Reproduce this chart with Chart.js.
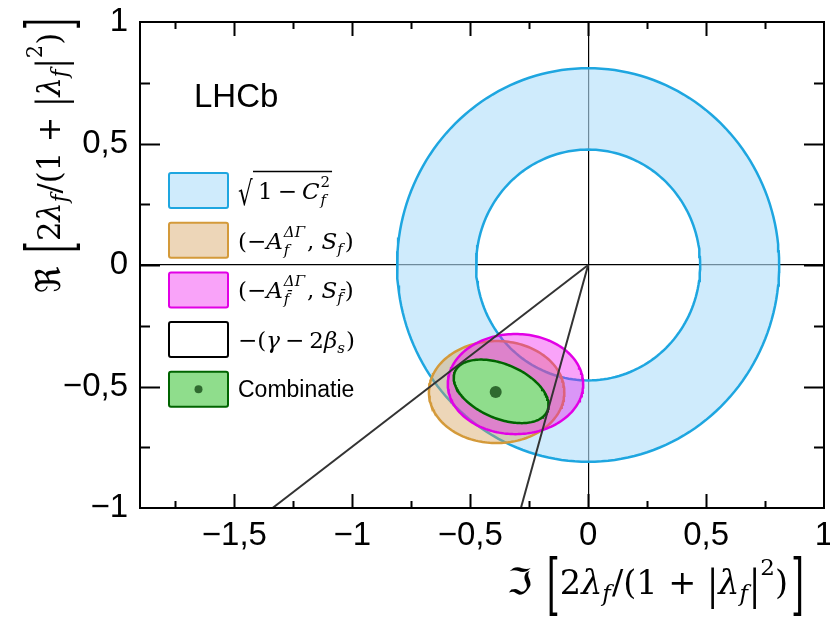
<!DOCTYPE html>
<html>
<head>
<meta charset="utf-8">
<script src="https://cdn.jsdelivr.net/npm/chart.js@4"></script>
<style>
  body { margin:0; background:#fff; }
  #c { display:block; }
</style>
</head>
<body>
<canvas id="c" width="830" height="619"></canvas>
<script>
/* ---- data ---- */
const xRange = [-1.9, 1];
const yRange = [-1, 1];
const xTickValues = [-1.5, -1, -0.5, 0, 0.5, 1];
const yTickValues = [-1, -0.5, 0, 0.5, 1];
const ringRadii = [0.475, 0.81];              // sqrt(1 - C_f^2) band
const ellipseNames = ['Af', 'Afbar', 'Combinatie'];
const ellipseCx  = [-0.388, -0.308, -0.369];
const ellipseCy  = [-0.523, -0.490, -0.520];
const ellipseA   = [0.287, 0.287, 0.212];
const ellipseB   = [0.210, 0.206, 0.112];
const ellipseRot = [0, 0, -22];                // degrees
const bestFit = [-0.392, -0.523];
const gammaLineX = [-1.338, -0.285];           // where the two -(gamma-2beta_s) lines hit y = -1
const legendLabels = ['sqrt', 'Af', 'Afbar', 'gamma', 'Combinatie'];

/* ---- styles ---- */
const ringFill = 'rgba(178,223,250,0.62)', ringLine = '#1ea6e0';
const tanFill = 'rgba(212,158,85,0.42)', tanLine = '#d49a3a';
const magFill = 'rgba(238,0,238,0.36)', magLine = '#e200e6';
const grnFill = '#8fdd8c', grnLine = '#006400', dotCol = '#2f6a2f';
const lineCol = '#333333';

function ellipsePts(cx, cy, a, b, rotDeg, reverse) {
  const r = rotDeg * Math.PI / 180, pts = [];
  for (let i = 0; i <= 180; i++) {
    const t = (reverse ? 180 - i : i) * 2 * Math.PI / 180;
    const ex = a * Math.cos(t), ey = b * Math.sin(t);
    pts.push({ x: cx + ex * Math.cos(r) - ey * Math.sin(r), y: cy + ex * Math.sin(r) + ey * Math.cos(r) });
  }
  return pts;
}

const ringShape = ellipsePts(0, 0, ringRadii[1], ringRadii[1], 0, false)
  .concat(ellipsePts(0, 0, ringRadii[0], ringRadii[0], 0, true));

const fills = [tanFill, magFill, grnFill];
const edges = [tanLine, magLine, grnLine];
const base = { showLine: true, pointRadius: 0, tension: 0, borderWidth: 2.5 };

const datasets = [
  { ...base, label: 'ring', data: ringShape, borderWidth: 0, backgroundColor: ringFill, fill: 'shape', order: 10 },
  { ...base, label: 'outer', data: ellipsePts(0, 0, ringRadii[1], ringRadii[1], 0), borderColor: ringLine, fill: false, order: 9 },
  { ...base, label: 'inner', data: ellipsePts(0, 0, ringRadii[0], ringRadii[0], 0), borderColor: ringLine, fill: false, order: 9 },
];
ellipseNames.forEach((n, i) => {
  datasets.push({ ...base, label: n, data: ellipsePts(ellipseCx[i], ellipseCy[i], ellipseA[i], ellipseB[i], ellipseRot[i]),
    borderColor: edges[i], backgroundColor: fills[i], fill: 'shape', order: 8 - i });
});
datasets.push({ label: 'best', data: [{ x: bestFit[0], y: bestFit[1] }], showLine: false, pointRadius: 6,
  pointBackgroundColor: dotCol, pointBorderWidth: 0, order: 4 });
gammaLineX.forEach((gx, i) => {
  datasets.push({ ...base, label: 'gamma' + i, data: [{ x: 0, y: 0 }, { x: gx, y: yRange[0] }],
    borderColor: lineCol, borderWidth: 2, fill: false, order: 1 });
});

/* ---- text helpers ---- */
const MF = '"DejaVu Serif", "Liberation Serif", serif';
const R = s => s + 'px ' + MF;
const It = s => 'italic ' + s + 'px ' + MF;
const SANS = '"Liberation Sans", Arial, sans-serif';
const fmt = v => (v < 0 ? '\u2212' : '') + String(Math.abs(v)).replace('.', ',');

function rich(ctx, segs, x, y) {
  let cx = x, hold = 0;
  for (const s of segs) {
    ctx.font = s.f;
    const w = ctx.measureText(s.t).width;
    ctx.save();
    ctx.translate(cx, y + (s.dy || 0));
    if (s.sy) ctx.scale(1, s.sy);
    ctx.fillText(s.t, 0, 0);
    ctx.restore();
    if (s.stack) hold = Math.max(hold, w);
    else { cx += Math.max(w, hold) + (s.kern || 0); hold = 0; }
  }
  return cx - x;
}

function titleSegs(sym, n) {
  const k = n / 32;
  return [
    { t: sym, f: Math.round(34 * k) + 'px "DejaVu Serif", "DejaVu Sans"' }, { t: ' ', f: R(n), kern: 4 },
    { t: '[', f: R(n), dy: 12 * k, sy: 2.0 }, { t: '2', f: R(n) }, { t: '\u03bb', f: It(n) },
    { t: 'f', f: It(22 * k), dy: 7 * k, kern: 1 }, { t: '/(1 + ', f: R(n) },
    { t: '|', f: R(n), dy: 5 * k, sy: 1.25 }, { t: '\u03bb', f: It(n) }, { t: 'f', f: It(22 * k), dy: 7 * k, kern: 1 },
    { t: '|', f: R(n), dy: 5 * k, sy: 1.25 }, { t: '2', f: R(22 * k), dy: -18 * k }, { t: ')', f: R(n), kern: 3 },
    { t: ']', f: R(n), dy: 12 * k, sy: 2.0 }
  ];
}

const L = 23, LS = 15;
const legendSegs = [
  null,
  [{ t: '(\u2212', f: R(L) }, { t: 'A', f: It(L), kern: 1 }, { t: '\u0394\u0393', f: It(LS), dy: -12, stack: true }, { t: 'f', f: It(LS), dy: 6, kern: 2 },
   { t: ',', f: R(L), kern: 7 }, { t: 'S', f: It(L) }, { t: 'f', f: It(LS), dy: 5, kern: 2 }, { t: ')', f: R(L) }],
  [{ t: '(\u2212', f: R(L) }, { t: 'A', f: It(L), kern: 1 }, { t: '\u0394\u0393', f: It(LS), dy: -12, stack: true }, { t: 'f\u0304', f: It(LS), dy: 6, kern: 2 },
   { t: ',', f: R(L), kern: 7 }, { t: 'S', f: It(L) }, { t: 'f\u0304', f: It(LS), dy: 5, kern: 2 }, { t: ')', f: R(L) }],
  [{ t: '\u2212(', f: R(L) }, { t: '\u03b3', f: It(L), kern: 5 }, { t: '\u2212', f: R(L), kern: 5 }, { t: '2', f: R(L) },
   { t: '\u03b2', f: It(L) }, { t: 's', f: It(LS), dy: 5, kern: 1 }, { t: ')', f: R(L) }],
  [{ t: 'Combinatie', f: '23px ' + SANS }]
];
const legendFill = [ringFill, tanFill, magFill, '#ffffff', grnFill];
const legendEdge = [ringLine, tanLine, magLine, '#000000', grnLine];

const decor = {
  id: 'decor',
  afterDraw(chart) {
    const { ctx, chartArea: ca, scales: { x, y } } = chart;
    ctx.save();
    ctx.strokeStyle = '#000';
    ctx.lineWidth = 2;
    ctx.strokeRect(ca.left, ca.top, ca.width, ca.height);
    ctx.beginPath();
    for (let v = -1.75; v < xRange[1] - 1e-6; v += 0.25) {
      const p = Math.round(x.getPixelForValue(v)) + 0.5;
      const len = Math.abs(v * 2 - Math.round(v * 2)) < 1e-6 ? 14 : 7;
      ctx.moveTo(p, ca.bottom); ctx.lineTo(p, ca.bottom - len);
      ctx.moveTo(p, ca.top); ctx.lineTo(p, ca.top + len);
    }
    for (let v = -0.75; v < yRange[1] - 1e-6; v += 0.25) {
      const p = Math.round(y.getPixelForValue(v)) + 0.5;
      const len = Math.abs(v * 2 - Math.round(v * 2)) < 1e-6 ? 20 : 10;
      ctx.moveTo(ca.left, p); ctx.lineTo(ca.left + len, p);
      ctx.moveTo(ca.right, p); ctx.lineTo(ca.right - len, p);
    }
    ctx.stroke();

    ctx.fillStyle = '#000';
    ctx.textBaseline = 'alphabetic';
    ctx.font = '33px ' + SANS;
    ctx.fillText('LHCb', 194, 107);

    // legend
    legendLabels.forEach((lab, i) => {
      const top = 173 + i * 49.7;
      ctx.fillStyle = legendFill[i];
      ctx.strokeStyle = legendEdge[i];
      ctx.lineWidth = 2;
      ctx.beginPath();
      ctx.roundRect(169, top, 59, 35, 2);
      ctx.fill(); ctx.stroke();
      ctx.fillStyle = '#000';
      const by = top + 26;
      if (i === 0) {
        ctx.save(); ctx.translate(238, by + 6); ctx.scale(1, 1.45);
        ctx.font = R(23); ctx.fillText('\u221a', 0, 0); ctx.restore();
        const x0 = 238 + 16;
        const w = rich(ctx, [{ t: '1', f: R(L), kern: 5 }, { t: '\u2212', f: R(L), kern: 5 }, { t: 'C', f: It(L), kern: 1 },
          { t: '2', f: R(LS), dy: -12, stack: true }, { t: 'f', f: It(LS), dy: 6 }], x0 + 4, by);
        ctx.beginPath(); ctx.lineWidth = 1.3; ctx.strokeStyle = '#000';
        ctx.moveTo(x0 - 1, by - 27.5); ctx.lineTo(x0 + w + 6, by - 27.5); ctx.stroke();
      } else {
        rich(ctx, legendSegs[i], 238, by - (i === 4 ? 1 : 0));
      }
      if (i === 4) {
        ctx.fillStyle = dotCol;
        ctx.beginPath(); ctx.arc(198.5, top + 17.5, 4, 0, 2 * Math.PI); ctx.fill();
      }
    });

    // axis titles
    ctx.fillStyle = '#000';
    rich(ctx, titleSegs('\u2111', 33.5), 507, 594);
    ctx.save();
    ctx.translate(60, 293);
    ctx.rotate(-Math.PI / 2);
    ctx.scale(0.955, 1);
    rich(ctx, titleSegs('\u211c', 32), 0, 0);
    ctx.restore();
    ctx.restore();
  }
};

const zeroGrid = {
  drawTicks: false,
  lineWidth: 1.2,
  color: c => (c.tick && c.tick.value === 0 ? '#000000' : 'rgba(0,0,0,0)')
};
const tickFont = { family: SANS, size: 33 };

new Chart(document.getElementById('c'), {
  type: 'line',
  data: { datasets },
  plugins: [decor],
  options: {
    responsive: false,
    animation: false,
    devicePixelRatio: 1,
    layout: { padding: { top: 22, right: 4, left: 0, bottom: 0 } },
    plugins: { legend: { display: false }, tooltip: { enabled: false } },
    scales: {
      x: {
        type: 'linear', bounds: 'data', min: xRange[0], max: xRange[1],
        grid: zeroGrid, border: { display: false },
        ticks: { autoSkip: false, maxRotation: 0, padding: 8, color: '#000', font: tickFont, callback: fmt },
        afterBuildTicks(s) { s.ticks = xTickValues.map(v => ({ value: v })); },
        afterFit(s) { s.height = 111; s.paddingLeft = 0; s.paddingRight = 0; }
      },
      y: {
        type: 'linear', bounds: 'data', min: yRange[0], max: yRange[1],
        grid: zeroGrid, border: { display: false },
        ticks: { autoSkip: false, padding: 12, color: '#000', font: tickFont, callback: fmt },
        afterBuildTicks(s) { s.ticks = yTickValues.map(v => ({ value: v })); },
        afterFit(s) { s.width = 140; s.paddingTop = 0; s.paddingBottom = 0; }
      }
    }
  }
});
</script>
</body>
</html>
